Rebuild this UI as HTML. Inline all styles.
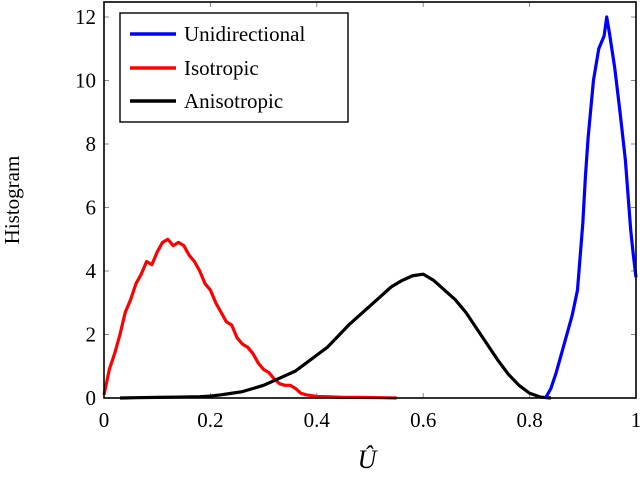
<!DOCTYPE html>
<html><head><meta charset="utf-8"><style>
html,body{margin:0;padding:0;background:#fff;}
svg text{font-family:"Liberation Serif","DejaVu Serif",serif;}
</style></head><body>
<svg id="chart" width="640" height="474" viewBox="0 0 640 474" xmlns="http://www.w3.org/2000/svg">
<g id="grid"></g>
<g id="series"></g>
<rect x="104" y="2" width="532" height="396" fill="none" stroke="#000" stroke-width="1.6"/>
<g id="xticks"></g>
<g id="yticks"></g>
<text transform="translate(19,200) rotate(-90)" text-anchor="middle" font-size="21">Histogram</text>
<text x="367" y="468" text-anchor="middle" font-size="26" font-style="italic">Û</text>
<g>
<rect x="120" y="13" width="228" height="109" fill="#fff" stroke="#000" stroke-width="1.4"/>
<line x1="130" y1="34" x2="176" y2="34" stroke="#0000ff" stroke-width="3.5"/>
<text x="184" y="41" font-size="21">Unidirectional</text>
<line x1="130" y1="68" x2="176" y2="68" stroke="#ff0000" stroke-width="3.5"/>
<text x="184" y="75" font-size="21">Isotropic</text>
<line x1="130" y1="101" x2="176" y2="101" stroke="#000" stroke-width="3.5"/>
<text x="184" y="108" font-size="21">Anisotropic</text>
</g>
</svg>
<script>
const xTicks=[0,0.2,0.4,0.6,0.8,1];
const xTickLabels=["0","0.2","0.4","0.6","0.8","1"];
const yTicks=[0,2,4,6,8,10,12];
const yTickLabels=["0","2","4","6","8","10","12"];
const isoX=[0,0.01,0.02,0.03,0.04,0.05,0.06,0.07,0.08,0.09,0.10,0.11,0.12,0.13,0.14,0.15,0.16,0.17,0.18,0.19,0.20,0.21,0.22,0.23,0.24,0.25,0.26,0.27,0.28,0.29,0.30,0.31,0.32,0.33,0.34,0.35,0.36,0.37,0.38,0.40,0.42,0.45,0.48,0.52,0.55];
const isoY=[0.1,0.9,1.4,2.0,2.7,3.1,3.6,3.9,4.3,4.2,4.6,4.9,5.0,4.8,4.9,4.8,4.5,4.3,4.0,3.6,3.4,3.0,2.7,2.4,2.3,1.9,1.7,1.6,1.4,1.1,0.9,0.8,0.6,0.45,0.4,0.4,0.3,0.15,0.1,0.05,0.04,0.02,0.02,0.01,0];
const anisoX=[0.03,0.06,0.10,0.14,0.18,0.20,0.22,0.24,0.26,0.28,0.30,0.32,0.34,0.36,0.38,0.40,0.42,0.44,0.46,0.48,0.50,0.52,0.54,0.56,0.58,0.60,0.62,0.64,0.66,0.68,0.70,0.72,0.74,0.76,0.78,0.80,0.82,0.84];
const anisoY=[0,0.01,0.02,0.03,0.04,0.06,0.1,0.15,0.2,0.3,0.4,0.55,0.7,0.85,1.1,1.35,1.6,1.95,2.3,2.6,2.9,3.2,3.5,3.7,3.85,3.9,3.7,3.4,3.1,2.7,2.2,1.7,1.2,0.75,0.4,0.15,0.03,0];
const uniX=[0.83,0.84,0.85,0.86,0.87,0.88,0.89,0.90,0.905,0.91,0.92,0.93,0.94,0.945,0.95,0.96,0.97,0.98,0.99,0.995,1.0];
const uniY=[0,0.3,0.8,1.4,2.0,2.6,3.4,5.5,7.0,8.2,10.0,11.0,11.4,12.0,11.5,10.4,9.0,7.5,5.3,4.5,3.8];
const X0=104,X1=636,Y0=398,Y12=17;
function sx(v){return X0+v*(X1-X0);}
function sy(v){return Y0-v*(Y0-Y12)/12;}
const NS="http://www.w3.org/2000/svg";
const grid=document.getElementById('grid'),xt=document.getElementById('xticks'),yt=document.getElementById('yticks'),ser=document.getElementById('series');
xTicks.forEach((v,i)=>{
 [[Y0,Y0-5],[2,7]].forEach(p=>{const l=document.createElementNS(NS,'line');
 
 
 l.setAttribute('x1',sx(v));l.setAttribute('x2',sx(v));l.setAttribute('y1',p[0]);l.setAttribute('y2',p[1]);l.setAttribute('stroke','#888');grid.appendChild(l);});
 const t=document.createElementNS(NS,'text');
 
 
 t.setAttribute('x',sx(v));t.setAttribute('y',427);t.setAttribute('text-anchor','middle');t.setAttribute('font-size','21');t.textContent=xTickLabels[i];xt.appendChild(t);
});
yTicks.forEach((v,i)=>{
 [[X0,X0+5],[X1,X1-5]].forEach(p=>{const l=document.createElementNS(NS,'line');
 
 
 l.setAttribute('y1',sy(v));l.setAttribute('y2',sy(v));l.setAttribute('x1',p[0]);l.setAttribute('x2',p[1]);l.setAttribute('stroke','#888');grid.appendChild(l);});
 const t=document.createElementNS(NS,'text');
 
 
 t.setAttribute('x',96);t.setAttribute('y',sy(v)+7);t.setAttribute('text-anchor','end');t.setAttribute('font-size','21');t.textContent=yTickLabels[i];yt.appendChild(t);
});
function line(xs,ys,color,name){
 const p=document.createElementNS(NS,'polyline');
 
 
 p.setAttribute('points',xs.map((x,i)=>sx(x)+','+sy(ys[i])).join(' '));
 p.setAttribute('fill','none');p.setAttribute('stroke',color);p.setAttribute('stroke-width','3.2');p.setAttribute('stroke-linejoin','round');
 ser.appendChild(p);
}
line(isoX,isoY,'#ff0000','isotropic-line');
line(anisoX,anisoY,'#000000','anisotropic-line');
line(uniX,uniY,'#0000ff','unidirectional-line');
</script>
</body></html>
